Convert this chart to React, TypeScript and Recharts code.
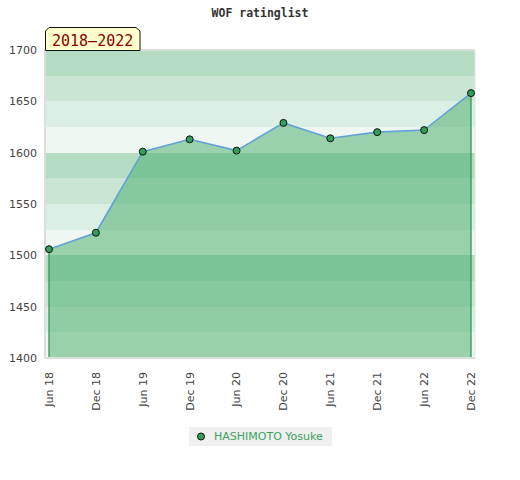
import React from 'react';
import {
  ComposedChart,
  Area,
  Line,
  XAxis,
  YAxis,
  CartesianGrid,
  ReferenceLine,
} from 'recharts';

// Rating periods and values
const periods = ['Jun 18', 'Dec 18', 'Jun 19', 'Dec 19', 'Jun 20', 'Dec 20', 'Jun 21', 'Dec 21', 'Jun 22', 'Dec 22'];
const ratings = [1506, 1522, 1601, 1613, 1602, 1629, 1614, 1620, 1622, 1658];
const leftTicks = [1400, 1450, 1500, 1550, 1600, 1650, 1700];
const rightTicks = [1400, 1410, 1420, 1430, 1440, 1450, 1460, 1470, 1480, 1490, 1500, 1510, 1520, 1530, 1540, 1550, 1560, 1570, 1580, 1590, 1600, 1610, 1620, 1630, 1640, 1650, 1660, 1670, 1680, 1690, 1700];
const playerName = 'HASHIMOTO Yosuke';
const chartTitle = 'WOF ratinglist';
const rangeLabel = '2018\u20132022';

const data = periods.map((period, i) => ({ period, rating: ratings[i] }));

const Y_MIN = 1400;
const Y_MAX = 1700;

// background stripes every 25 points, 4 shades from the top down, repeating every 100
const BAND_COLORS = ['#b3dcc3', '#c9e6d5', '#dcefe4', '#eff7f2'];
const bandTicks: number[] = [];
for (let v = Y_MIN; v <= Y_MAX; v += 25) bandTicks.push(v);

const FONT = '"DejaVu Sans", sans-serif';
const DOT_FILL = '#2f9f5a';
const EDGE_GREEN = '#2f9a56';

const bandCoords = (props: any) => {
  const { yAxis, offset } = props;
  if (yAxis && typeof yAxis.scale === 'function') {
    return bandTicks.map((v) => yAxis.scale(v));
  }
  return bandTicks.map((v) => offset.top + (offset.height * (Y_MAX - v)) / (Y_MAX - Y_MIN));
};

const XTick = (props: any) => {
  const { x, y, payload } = props;
  return (
    <g transform={`translate(${x},${y + 6})`}>
      <text transform="rotate(-90)" x={0} y={0} dy="0.35em" textAnchor="end" fontSize={11} fill="#444" fontFamily={FONT}>
        {payload.value}
      </text>
    </g>
  );
};

const RightTick = (props: any) => {
  const { x, y, payload } = props;
  const v = payload.value;
  const showLine = v !== Y_MIN && v !== Y_MAX;
  const showText = v % 50 === 0;
  return (
    <g>
      {showLine && <line x1={x - 3} x2={x} y1={y} y2={y} stroke="#222" strokeWidth={1} />}
      {showText && (
        <text x={x + 7} y={y} dy="0.355em" textAnchor="start" fontSize={11} fill="#222" fontFamily={FONT}>
          {v}
        </text>
      )}
    </g>
  );
};

const App = () => {
  const first = data[0];
  const last = data[data.length - 1];

  return (
    <div style={{ position: 'absolute', left: 0, top: 0, width: 520, height: 480, background: '#fff', fontFamily: FONT }}>
      <div
        style={{
          position: 'absolute',
          top: 6,
          left: 0,
          width: 520,
          textAlign: 'center',
          fontFamily: '"DejaVu Sans Mono", monospace',
          fontWeight: 'bold',
          fontSize: 11.5,
          color: '#333',
        }}
      >
        {chartTitle}
      </div>

      <ComposedChart width={520} height={480} data={data} margin={{ top: 50, right: 0, bottom: 62, left: 0 }}>
        <CartesianGrid
          yAxisId="left"
          vertical={false}
          horizontalFill={BAND_COLORS}
          fillOpacity={1}
          stroke="none"
          horizontalCoordinatesGenerator={bandCoords}
        />
        <XAxis
          dataKey="period"
          padding={{ left: 4, right: 4 }}
          height={60}
          interval={0}
          tickLine={false}
          axisLine={{ stroke: '#ddd', strokeWidth: 2 }}
          tick={<XTick />}
        />
        <YAxis
          yAxisId="left"
          orientation="left"
          width={45}
          domain={[Y_MIN, Y_MAX]}
          ticks={leftTicks}
          interval={0}
          tickLine={false}
          axisLine={{ stroke: '#ddd', strokeWidth: 2 }}
          tick={{ fontSize: 11, fill: '#444', fontFamily: FONT }}
        />
        <YAxis
          yAxisId="right"
          orientation="right"
          width={45}
          domain={[Y_MIN, Y_MAX]}
          ticks={rightTicks}
          interval={0}
          tickSize={0}
          tickMargin={0}
          tickLine={false}
          axisLine={{ stroke: '#e4e4e4' }}
          tick={<RightTick />}
        />
        <ReferenceLine yAxisId="left" y={Y_MAX} stroke="#ddd" strokeWidth={2} ifOverflow="visible" />
        <Area
          yAxisId="left"
          type="linear"
          dataKey="rating"
          fill="#43ac67"
          fillOpacity={0.5}
          stroke="none"
          baseValue={Y_MIN}
          isAnimationActive={false}
        />
        <ReferenceLine
          yAxisId="left"
          segment={[{ x: first.period, y: Y_MIN }, { x: first.period, y: first.rating }]}
          stroke={EDGE_GREEN}
          strokeWidth={1.3}
        />
        <ReferenceLine
          yAxisId="left"
          segment={[{ x: last.period, y: Y_MIN }, { x: last.period, y: last.rating }]}
          stroke={EDGE_GREEN}
          strokeWidth={1.3}
        />
        <Line
          yAxisId="left"
          type="linear"
          dataKey="rating"
          stroke="#62a2d8"
          strokeWidth={1.6}
          dot={{ r: 3.5, fill: DOT_FILL, stroke: '#111', strokeWidth: 1, fillOpacity: 1 }}
          activeDot={false}
          isAnimationActive={false}
        />
      </ComposedChart>

      <svg style={{ position: 'absolute', left: 44, top: 26 }} width={98} height={26}>
        <polygon points="1.5,24.5 1.5,5 5,1.5 92,1.5 96,5 96,24.5" fill="#ffffcc" stroke="#111" strokeWidth={1} />
        <text x={8} y={19.5} fontSize={15} fill="#8b0000" fontFamily={'"DejaVu Sans Mono", monospace'}>
          {rangeLabel}
        </text>
      </svg>

      <div
        style={{
          position: 'absolute',
          left: 189,
          top: 427,
          width: 143,
          height: 19,
          background: '#f0f0f0',
          display: 'flex',
          alignItems: 'center',
        }}
      >
        <svg width={25} height={19}>
          <circle cx={12} cy={9.5} r={3.5} fill={DOT_FILL} stroke="#111" strokeWidth={1} />
        </svg>
        <span style={{ fontSize: 11, color: '#3ba35f', fontFamily: FONT }}>{playerName}</span>
      </div>
    </div>
  );
};

export default App;
